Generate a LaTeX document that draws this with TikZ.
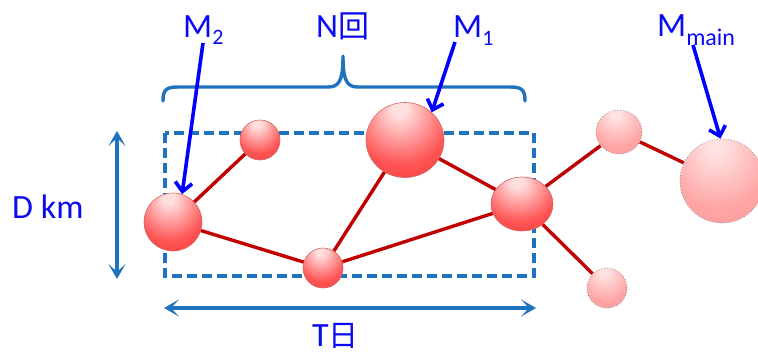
\documentclass[tikz,border=0pt]{standalone}
\usepackage{fontspec}
\setmainfont{Carlito}
\newfontfamily\cjk{Noto Sans CJK SC}
\usetikzlibrary{arrows.meta,shapes.geometric}
\definecolor{txtblue}{RGB}{10,10,240}
\definecolor{ptrblue}{RGB}{0,0,255}
\definecolor{steel}{RGB}{30,115,190}
\definecolor{edgered}{RGB}{192,0,0}
\definecolor{ballhi}{RGB}{255,222,222}
\definecolor{ballmid}{RGB}{255,85,85}
\definecolor{ballout}{RGB}{235,25,25}
\definecolor{fadehi}{RGB}{255,225,225}
\definecolor{fademid}{RGB}{255,165,165}
\definecolor{fadeout}{RGB}{250,135,135}
\pgfdeclareradialshading{redball}{\pgfpoint{-4bp}{22bp}}{color(0bp)=(ballhi); color(5bp)=(ballhi); color(30bp)=(ballmid); color(62bp)=(ballout); color(80bp)=(ballout)}
\pgfdeclareradialshading{fadeball}{\pgfpoint{-4bp}{22bp}}{color(0bp)=(fadehi); color(5bp)=(fadehi); color(30bp)=(fademid); color(62bp)=(fadeout); color(80bp)=(fadeout)}
\tikzset{
  lbl/.style={inner sep=0pt, text=txtblue, font=\fontsize{34}{40}\selectfont},
  ball/.style={ellipse, inner sep=0pt, shading=redball, draw=red!70!black!60, line width=0.6pt},
  fball/.style={ellipse, inner sep=0pt, shading=fadeball, draw=black!45, dotted, line width=0.8pt},
  link/.style={draw=edgered, line width=3.4pt},
  pointer/.style={draw=ptrblue, line width=3.6pt, -{Straight Barb[length=9pt,width=17pt,line width=3.6pt]}},
  dim/.style={draw=steel, line width=3.4pt, {Stealth[length=15pt,width=17pt,inset=8pt]}-{Stealth[length=15pt,width=17pt,inset=8pt]}}
}
\newcommand{\subsz}{\fontsize{22}{22}\selectfont}
\begin{document}
\begin{tikzpicture}[x=1pt,y=-1pt]
\useasboundingbox (0,0) rectangle (758,356);
% window
\draw[steel, line width=3.4pt, dash pattern=on 10pt off 5pt] (165,133) rectangle (534,276);
% brace
\draw[steel, line width=3.4pt, line cap=round, line join=round]
  (163,101) .. controls (163,90) and (166,87) .. (178,87) -- (328,87)
  .. controls (339,87) and (343,81) .. (343,56)
  .. controls (343,81) and (347,87) .. (358,87) -- (510,87)
  .. controls (522,87) and (525,90) .. (525,101);
% dimension arrows
\coordinate (dtop) at (117,131);
\coordinate (dbot) at (117,279);
\coordinate (tl) at (164,308);
\coordinate (tr) at (536,308);
\draw[dim] (dtop) -- (dbot);
\draw[dim] (tl) -- (tr);
% balls
\node[ball, minimum width=58pt, minimum height=58pt] (m2) at (173,222) {};
\node[ball, minimum width=40pt, minimum height=40pt] (a) at (260,140) {};
\node[ball, minimum width=78pt, minimum height=75pt] (m1) at (405,140) {};
\node[ball, minimum width=40pt, minimum height=40pt] (b) at (323,268) {};
\node[ball, minimum width=62pt, minimum height=54pt] (c) at (522,204) {};
\node[fball, minimum width=46pt, minimum height=44pt] (d) at (619,132) {};
\node[fball, minimum width=84pt, minimum height=84pt] (mm) at (722,181) {};
\node[fball, minimum width=40pt, minimum height=40pt] (e) at (607,288) {};
% links
\draw[link] (m2) -- (a);
\draw[link] (m2) -- (b);
\draw[link] (b) -- (m1);
\draw[link] (b) -- (c);
\draw[link] (m1) -- (c);
\draw[link] (c) -- (d);
\draw[link] (d) -- (mm);
\draw[link] (c) -- (e);
% labels
\node[lbl, anchor=base west] (m2lab) at (183,37) {M\raisebox{-7pt}{\subsz 2}};
\node[lbl, anchor=base west] (nlab) at (316,37) {N{\cjk\fontsize{31}{31}\selectfont 回}};
\node[lbl, anchor=base west] (m1lab) at (453,37) {M\raisebox{-8pt}{\subsz 1}};
\node[lbl, anchor=base west] (mmlab) at (657,36) {M\raisebox{-9pt}{\fontsize{24}{24}\selectfont main}};
\node[lbl, anchor=base west] (dlab) at (12,218) {D km};
\node[lbl, anchor=base west] (tlab) at (312,346) {T{\cjk\fontsize{30}{30}\selectfont 日}};
% pointers
\coordinate (p2) at (203,43);
\coordinate (p1) at (455,42);
\coordinate (pm) at (693,45);
\draw[pointer] (p2) -- (m2.72);
\draw[pointer] (p1) -- (m1.46);
\draw[pointer] (pm) -- (mm.92);
\end{tikzpicture}
\end{document}
